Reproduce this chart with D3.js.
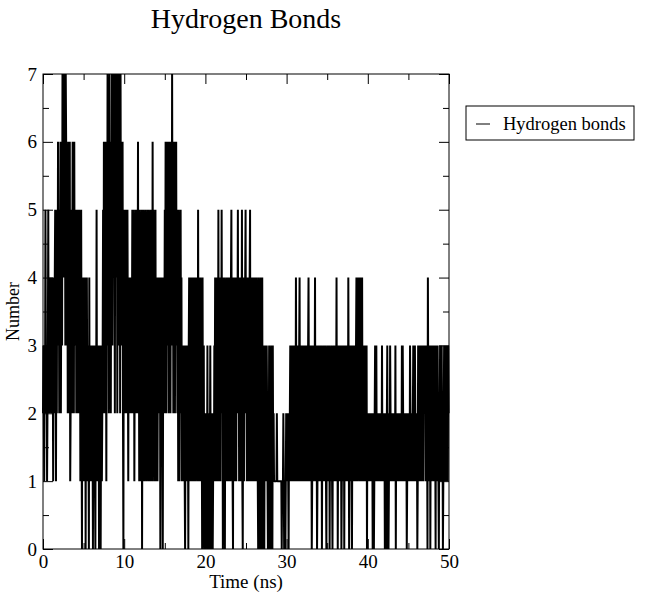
<!DOCTYPE html>
<html>
<head>
<meta charset="utf-8">
<script src="https://cdn.jsdelivr.net/npm/d3@7"></script>
<style>
  html, body { margin: 0; padding: 0; background: #fff; }
  svg { display: block; }
  text { font-family: "Liberation Serif", "DejaVu Serif", serif; fill: #000; }
</style>
</head>
<body>
<svg id="chart" width="646" height="604"></svg>
<script>
// ---- data (hydrogen bond count, sampled every 0.05 ns) ----
const chartTitle = "Hydrogen Bonds";
const xLabel = "Time (ns)";
const yLabel = "Number";
const seriesName = "Hydrogen bonds";
const timeStart = 0;
const timeStep = 0.05;
const hbonds = [
  2,3,2,1,3,2,5,3,2,3, 1,2,3,5,2,3,4,2,3,4,   // 0
  3,4,2,4,3,1,4,2,3,4, 5,3,1,4,2,5,3,6,4,5,   // 1
  2,5,3,6,2,4,6,3,7,5, 6,7,4,7,6,3,7,6,4,3,   // 2
  5,2,6,3,5,2,6,1,2,5, 3,2,4,6,3,5,2,6,3,4,   // 3
  3,5,2,4,3,5,2,4,3,5, 2,4,1,3,5,2,0,4,1,3,   // 4
  4,1,3,2,4,0,3,1,4,2, 1,3,2,0,4,1,3,2,1,3,   // 5
  1,3,2,0,3,1,2,3,1,0, 3,2,5,1,3,2,1,3,0,2,   // 6
  1,3,0,2,3,1,2,3,5,2, 6,3,5,2,6,4,1,5,3,7,   // 7
  3,6,2,5,7,3,6,2,5,4, 7,3,6,7,4,7,5,2,7,6,   // 8
  7,4,7,2,6,7,3,7,5,6, 2,7,4,6,3,5,6,2,0,4,   // 9
  3,5,2,4,3,5,2,4,5,3, 1,4,2,4,3,2,3,4,2,3,   // 10
  5,2,4,3,5,1,3,4,2,5, 3,4,2,3,6,2,4,1,5,3,   // 11
  1,4,2,5,0,3,1,5,2,4, 1,3,5,2,4,1,3,5,2,4,   // 12
  1,5,2,4,1,3,5,2,4,1, 6,2,5,3,1,4,2,5,1,3,   // 13
  2,4,1,3,2,4,3,2,4,0, 3,2,4,3,2,0,3,4,2,3,   // 14
  5,3,6,2,5,4,6,3,5,2, 6,4,3,6,2,5,6,3,7,4,   // 15
  6,2,5,3,6,2,5,4,6,3, 5,2,4,1,5,3,1,4,2,5,   // 16
  2,4,1,3,2,3,1,2,3,1, 0,2,3,1,2,3,1,2,0,3,   // 17
  4,1,3,2,4,1,3,4,2,1, 4,3,1,2,4,3,1,4,2,3,   // 18
  4,1,5,2,4,1,3,2,4,1, 3,2,0,4,1,2,3,0,2,1,   // 19
  2,0,1,2,1,3,0,2,1,0, 2,1,3,1,0,2,1,2,0,1,   // 20
  2,1,3,2,4,1,3,2,4,1, 3,2,5,1,4,2,3,1,4,2,   // 21
  5,2,4,0,3,1,4,2,0,3, 1,4,2,3,1,4,2,3,1,4,   // 22
  2,3,1,4,5,2,3,1,0,4, 2,3,1,4,2,3,1,4,2,3,   // 23
  5,2,4,1,3,2,4,1,3,2, 5,1,0,3,4,1,3,2,4,5,   // 24
  2,4,1,3,2,4,1,3,2,4, 5,1,3,2,4,1,3,2,4,1,   // 25
  3,1,4,2,3,1,4,2,3,1, 0,4,1,3,0,2,4,0,3,1,   // 26
  4,0,2,1,3,0,2,1,3,2, 1,3,2,1,0,2,1,3,0,2,   // 27
  1,0,3,1,2,0,3,1,2,1, 1,1,1,1,1,1,2,1,1,1,   // 28
  1,1,1,1,1,1,1,1,0,1, 1,1,2,1,0,1,1,0,1,2,   // 29
  1,2,1,2,1,0,2,1,2,3, 1,3,2,1,3,2,1,3,2,1,   // 30
  3,2,1,4,2,3,1,2,3,1, 2,3,4,1,2,3,1,2,3,2,   // 31
  1,3,2,1,3,2,1,3,2,1, 3,2,1,3,4,2,1,3,2,1,   // 32
  3,2,0,1,3,2,1,2,3,2, 4,1,2,3,2,0,1,2,3,1,   // 33
  2,1,3,1,2,1,3,0,2,1, 2,3,2,1,3,2,3,1,0,2,   // 34
  1,3,1,2,1,3,0,2,1,2, 3,2,1,0,2,3,1,2,3,1,   // 35
  3,1,2,4,1,3,0,2,1,3, 1,2,1,3,2,0,1,3,1,2,   // 36
  1,3,0,2,1,3,1,2,1,3, 2,1,4,2,0,1,3,1,2,1,   // 37
  3,0,2,1,3,1,2,1,3,2, 1,3,4,2,1,4,3,2,4,1,   // 38
  3,2,4,1,3,2,4,1,3,2, 1,3,2,1,3,2,1,3,0,2,   // 39
  1,2,1,2,1,2,1,2,1,2, 1,2,0,1,2,0,1,2,3,1,   // 40
  2,3,1,2,1,2,1,2,1,2, 1,2,1,2,1,3,1,2,1,2,   // 41
  1,2,0,1,2,1,0,2,3,1, 2,0,1,2,1,3,2,1,2,1,   // 42
  2,1,2,1,2,1,2,1,3,0, 2,1,2,1,2,1,2,1,2,1,   // 43
  2,1,2,1,3,1,3,2,1,2, 1,2,1,2,1,2,0,1,2,1,   // 44
  2,1,2,1,3,2,1,2,1,2, 1,2,3,1,2,1,3,2,1,2,   // 45
  1,2,0,1,3,2,3,2,1,3, 2,3,1,2,3,2,3,1,3,2,   // 46
  3,2,3,1,2,3,2,0,4,2, 3,1,2,3,0,2,3,1,2,3,   // 47
  2,3,1,2,3,1,2,0,3,1, 2,1,3,2,1,0,2,1,3,2,   // 48
  1,2,3,1,2,0,1,2,3,1, 2,3,1,2,1,3,2,1,3,2,   // 49
  2                                           // 50
];
const xTicksMajor = [0, 10, 20, 30, 40, 50];
const xTicksMinor = [5, 15, 25, 35, 45];
const yTicksMajor = [0, 1, 2, 3, 4, 5, 6, 7];
const yTicksMinor = [0.5, 1.5, 2.5, 3.5, 4.5, 5.5, 6.5];

// ---- layout ----
const svg = d3.select("#chart");
const plot = { left: 43, right: 449, top: 74, bottom: 549 };

const x = d3.scaleLinear().domain([0, 50]).range([plot.left, plot.right]);
const y = d3.scaleLinear().domain([0, 7]).range([plot.bottom, plot.top]);

const points = hbonds.map((v, i) => ({ t: timeStart + i * timeStep, v }));

// series line
svg.append("path")
  .datum(points)
  .attr("fill", "none")
  .attr("stroke", "#000")
  .attr("stroke-width", 2)
  .attr("stroke-linejoin", "miter")
  .attr("stroke-miterlimit", 1)
  .attr("d", d3.line().x(d => x(d.t)).y(d => y(d.v)));

// frame
svg.append("rect")
  .attr("x", plot.left).attr("y", plot.top)
  .attr("width", plot.right - plot.left).attr("height", plot.bottom - plot.top)
  .attr("fill", "none").attr("stroke", "#000").attr("stroke-width", 1);

const MAJ = 10, MIN = 6;
function styleAxis(g, fontSize) {
  g.select(".domain").remove();
  g.selectAll("line").attr("stroke", "#000");
  g.selectAll("text")
    .attr("font-family", "Liberation Serif, serif")
    .attr("font-size", fontSize)
    .attr("fill", "#000");
}

// bottom
svg.append("g").attr("transform", `translate(0,${plot.bottom})`)
  .call(d3.axisBottom(x).tickValues(xTicksMajor).tickFormat(d3.format("d")).tickSize(-MAJ).tickPadding(6))
  .call(g => styleAxis(g, 19));
svg.append("g").attr("transform", `translate(0,${plot.bottom})`)
  .call(d3.axisBottom(x).tickValues(xTicksMinor).tickFormat("").tickSize(-MIN))
  .call(g => styleAxis(g, 19));
// top
svg.append("g").attr("transform", `translate(0,${plot.top})`)
  .call(d3.axisTop(x).tickValues(xTicksMajor).tickFormat("").tickSize(-MAJ))
  .call(g => styleAxis(g, 19));
svg.append("g").attr("transform", `translate(0,${plot.top})`)
  .call(d3.axisTop(x).tickValues(xTicksMinor).tickFormat("").tickSize(-MIN))
  .call(g => styleAxis(g, 19));
// left
svg.append("g").attr("transform", `translate(${plot.left},0)`)
  .call(d3.axisLeft(y).tickValues(yTicksMajor).tickFormat(d3.format("d")).tickSize(-MAJ).tickPadding(6))
  .call(g => styleAxis(g, 19));
svg.append("g").attr("transform", `translate(${plot.left},0)`)
  .call(d3.axisLeft(y).tickValues(yTicksMinor).tickFormat("").tickSize(-MIN))
  .call(g => styleAxis(g, 19));
// right
svg.append("g").attr("transform", `translate(${plot.right},0)`)
  .call(d3.axisRight(y).tickValues(yTicksMajor).tickFormat("").tickSize(-MAJ))
  .call(g => styleAxis(g, 19));
svg.append("g").attr("transform", `translate(${plot.right},0)`)
  .call(d3.axisRight(y).tickValues(yTicksMinor).tickFormat("").tickSize(-MIN))
  .call(g => styleAxis(g, 19));

// title
svg.append("text")
  .attr("x", 246).attr("y", 28)
  .attr("text-anchor", "middle")
  .attr("font-size", 28)
  .text(chartTitle);

// axis labels
svg.append("text")
  .attr("x", (plot.left + plot.right) / 2).attr("y", 588)
  .attr("text-anchor", "middle")
  .attr("font-size", 19)
  .text(xLabel);
svg.append("text")
  .attr("transform", `translate(19,${(plot.top + plot.bottom) / 2}) rotate(-90)`)
  .attr("text-anchor", "middle")
  .attr("font-size", 18)
  .text(yLabel);

// legend
const lg = svg.append("g").attr("transform", "translate(466,106)");
lg.append("rect").attr("width", 168).attr("height", 34)
  .attr("fill", "#fff").attr("stroke", "#000").attr("stroke-width", 1);
lg.append("line").attr("x1", 10).attr("x2", 24).attr("y1", 18).attr("y2", 18)
  .attr("stroke", "#000").attr("stroke-width", 1);
lg.append("text").attr("x", 37).attr("y", 24)
  .attr("font-size", 18.5)
  .text(seriesName);
</script>
</body>
</html>
